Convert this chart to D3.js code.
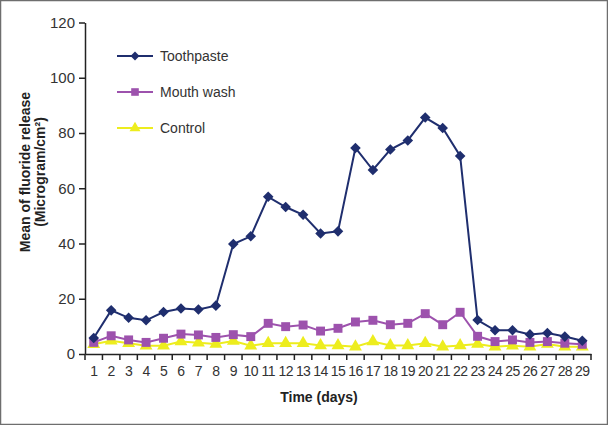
<!DOCTYPE html>
<html><head><meta charset="utf-8">
<script src="https://cdn.jsdelivr.net/npm/d3@7"></script>
<style>body{margin:0;background:#fff}svg{display:block}text{font-family:"Liberation Sans",Arial,sans-serif}</style>
</head><body><svg id="c" width="608" height="425"></svg>
<script>
const days = d3.range(1, 30).map(String);
const toothpaste = [5.8,15.8,13.1,12.2,15.2,16.5,16.1,17.5,39.8,42.6,56.9,53.2,50.4,43.6,44.4,74.6,66.6,74.0,77.3,85.6,81.8,71.7,12.3,8.6,8.6,7.1,7.6,6.3,4.8];
const mouthwash = [4.2,6.6,5.1,4.2,5.7,7.2,6.9,6.0,7.0,6.3,11.1,9.9,10.5,8.3,9.3,11.6,12.2,10.6,11.1,14.6,10.6,15.1,6.4,4.5,5.1,4.2,4.5,3.9,3.5];
const control = [3.5,4.8,3.9,3.0,3.0,4.5,4.1,3.6,4.7,3.0,3.9,3.9,3.9,3.1,3.1,2.6,4.5,3.1,3.1,3.9,2.6,3.1,3.6,2.6,3.0,2.6,3.6,2.6,2.6];
const yTicks = [0,20,40,60,80,100,120];
const seriesNames = ["Toothpaste","Mouth wash","Control"];
const seriesColors = ["#1f2e6e","#9d52ad","#eded1e"];
const seriesData = [toothpaste, mouthwash, control];

const svg = d3.select("#c");
svg.append("rect").attr("x",0.5).attr("y",0.5).attr("width",607).attr("height",424)
  .attr("fill","#fff").attr("stroke","#6e6e6e").attr("stroke-width",1.5);

const x = d3.scaleBand().domain(days).range([85, 591]);
const y = d3.scaleLinear().domain([0,120]).range([354, 22.5]);

function marker(sel, s, scale) {
  const k = scale || 1;
  if (s === 0) {
    sel.attr("d", d3.symbol().type(d3.symbolSquare).size(56 * k * k));
  } else if (s === 1) {
    sel.attr("d", d3.symbol().type(d3.symbolSquare).size(80 * k * k));
  } else {
    sel.attr("d", d3.symbol().type(d3.symbolTriangle).size(72 * k * k));
  }
  return sel;
}

// y axis
const ya = svg.append("g").attr("transform","translate(85,0)")
  .call(d3.axisLeft(y).tickValues(yTicks).tickSize(6).tickSizeOuter(0));
ya.select(".domain").attr("stroke","#222").attr("stroke-width",1.5);
ya.selectAll(".tick line").attr("stroke","#222").attr("stroke-width",1.5);
ya.selectAll("text").attr("font-size",15).attr("fill","#333").attr("dx",-1);

// x axis
const xa = svg.append("g").attr("transform","translate(0,354)")
  .call(d3.axisBottom(x).tickSize(0).tickPadding(12));
xa.select(".domain").attr("stroke","#222").attr("stroke-width",1.5);
xa.selectAll("text").attr("font-size",14).attr("fill","#333").attr("letter-spacing",-0.6);
xa.selectAll(".bt").data(d3.range(0, days.length + 1)).enter().append("line")
  .attr("x1", i => 85 + i * x.step()).attr("x2", i => 85 + i * x.step())
  .attr("y1", 0).attr("y2", 6).attr("stroke","#222").attr("stroke-width",1.5);

// titles
svg.append("text").attr("x",319).attr("y",402).attr("text-anchor","middle")
  .attr("font-size",14).attr("font-weight","bold").attr("fill","#222").text("Time (days)");
const yt = svg.append("text").attr("transform","translate(30,172) rotate(-90)")
  .attr("text-anchor","middle").attr("font-size",14).attr("font-weight","bold").attr("fill","#222");
yt.append("tspan").attr("x",0).attr("dy",0).text("Mean of fluoride release");
yt.append("tspan").attr("x",0).attr("dy",15).text("(Microgram/cm²)");

const line = d3.line().x((d,i) => x(days[i]) + x.bandwidth()/2).y(d => y(d));
[2,1,0].forEach(s => {
  const g = svg.append("g");
  g.append("path").datum(seriesData[s]).attr("d", line).attr("fill","none")
    .attr("stroke", seriesColors[s]).attr("stroke-width", 2);
  marker(g.selectAll("path.m").data(seriesData[s]).enter().append("path").attr("class","m"), s)
    .attr("transform",(d,i) => `translate(${x(days[i]) + x.bandwidth()/2},${y(d)})` + (s===0 ? " rotate(45)" : ""))
    .attr("fill", seriesColors[s]);
});

// legend
seriesNames.forEach((n,i) => {
  const ly = 56 + i * 36;
  svg.append("line").attr("x1",117).attr("x2",153).attr("y1",ly).attr("y2",ly)
    .attr("stroke",seriesColors[i]).attr("stroke-width",2.2);
  marker(svg.append("path"), i, 0.85)
    .attr("transform",`translate(135,${ly})` + (i===0 ? " rotate(45)" : ""))
    .attr("fill",seriesColors[i]);
  svg.append("text").attr("x",160).attr("y",ly+5).attr("font-size",14).attr("fill","#333").text(n);
});
</script></body></html>
